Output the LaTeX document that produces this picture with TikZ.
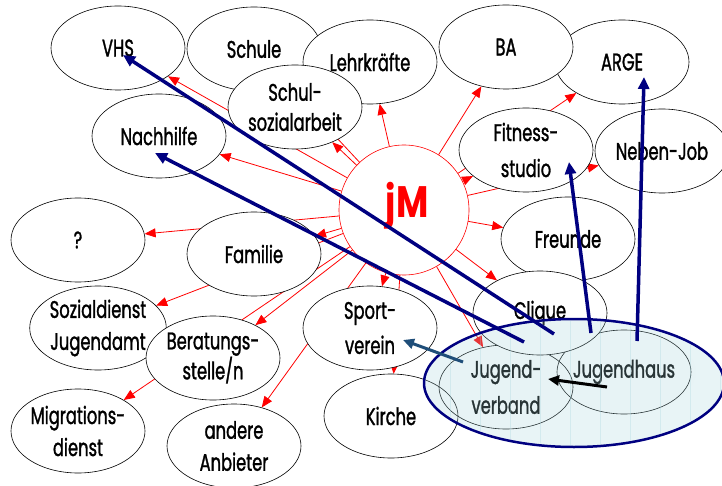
\documentclass[tikz,border=0pt]{standalone}
\usepackage{fontspec}
\setmainfont{Poppins}[FakeStretch=0.68,FakeBold=1.2]
\newfontfamily\jmfont{Poppins}[FakeStretch=0.8]
\usetikzlibrary{shapes.geometric,arrows.meta}
\pgfdeclarelayer{back}
\pgfsetlayers{back,main}
\definecolor{navy}{HTML}{000080}
\definecolor{tealarr}{HTML}{1F4E79}
\definecolor{ovl}{HTML}{A3D3DB}
\begin{document}
\begin{tikzpicture}[x=1pt,y=-1pt,
  bub/.style={ellipse, draw=black, line width=0.6pt, fill=white,
    minimum width=134pt, minimum height=84pt, inner sep=0pt, align=center,
    font=\fontsize{24}{32}\selectfont},
  outl/.style={draw=black, line width=0.6pt},
  redarr/.style={draw=red, line width=0.8pt, -{Triangle[length=11pt,width=9pt]}},
  bluearr/.style={draw=navy, line width=3.5pt, -{Triangle[length=12pt,width=11pt]}},
  tealline/.style={draw=tealarr, line width=3pt, -{Triangle[length=11pt,width=10pt]}},
  blackline/.style={draw=black, line width=3pt, -{Triangle[length=11pt,width=10pt]}},
  gridline/.style={draw=ovl, line width=0.6pt, opacity=0.3}]
\useasboundingbox (0,0) rectangle (722,486);
% ellipses
\node[bub] (vhs) at (118,48) {VHS};
\node[bub] (schule) at (254,49) {Schule};
\node[bub] (lehr) at (370,62) {Lehrkräfte};
\node[bub] (schulsoz) at (295,107) {Schul-\\[-2pt]sozialarbeit};
\node[bub] (nachhilfe) at (159,136) {Nachhilfe};
\node[bub] (arge) at (622,62) {ARGE};
\node[bub] (ba) at (506,47) {BA};
\node[bub] (fitness) at (526,150) {Fitness-\\[4pt]studio};
\node[bub] (nebenjob) at (662,151) {Neben-Job};
\node[bub] (frage) at (78,240) {?};
\node[bub] (familie) at (254,254) {Familie};
\node[bub] (freunde) at (568,239) {Freunde};
\node[bub] (sozial) at (98,328) {Sozialdienst\\Jugendamt};
\node[bub] (berat) at (213,358) {Beratungs-\\[-2pt]stelle/n};
\node[bub] (migr) at (78,431) {Migrations-\\dienst};
\node[bub] (andere) at (234,446) {andere\\Anbieter};
\node[bub] (sport) at (370,328) {Sport-\\[3pt]verein};
\node[bub, draw=none] (kirche) at (391,416) {Kirche};
\node[bub, draw=none] (jhaus) at (624,372) {Jugendhaus};
\node[bub, draw=none] (jverband) at (506,387) {Jugend-\\[4pt]verband};
\draw[outl] (kirche.center) ellipse [x radius=67, y radius=42];
\draw[outl] (jhaus.center) ellipse [x radius=67, y radius=42];
\draw[outl] (jverband.center) ellipse [x radius=67, y radius=42];
\node[bub] (clique) at (540,313) {Clique};
% centre circle
\node[circle, draw=red, line width=0.6pt, minimum size=130pt, inner sep=0pt,
  text=red, font=\jmfont\bfseries\fontsize{44}{44}\selectfont,
  text height=15pt, text depth=0pt] (jm) at (404,210) {\hspace*{6pt}jM};
% red arrows underneath the ellipses
\begin{pgfonlayer}{back}
\foreach \t in {vhs,schule,lehr,schulsoz,nachhilfe,arge,ba,fitness,nebenjob,
  frage,familie,freunde,sozial,berat,migr,andere,sport,kirche,jverband,clique}
  \draw[redarr] (jm) -- (\t);
\end{pgfonlayer}
% translucent group ellipse
\node[ellipse, fill=ovl, fill opacity=0.25, minimum width=300pt,
  minimum height=128pt, inner sep=0pt] (grp) at (574,383) {};
\begin{scope}
  \clip (grp.center) ellipse [x radius=148, y radius=62];
  \draw[gridline] (424,317) grid[step=30] (726,451);
\end{scope}
\draw[navy, line width=2.5pt] (grp.center) ellipse [x radius=150, y radius=64];
% free ends of the thick connectors
\coordinate (t1) at (554,334);
\coordinate (t2) at (524,342);
\coordinate (t3) at (591,333);
\coordinate (t4) at (637,341);
\coordinate (t5) at (463,362);
\coordinate (t6) at (607,387);
\draw[bluearr] (t1) -- ([shift={(5,7)}]vhs.center);
\draw[bluearr] (t2) -- ([shift={(-4,17)}]nachhilfe.center);
\draw[bluearr] (t3) -- ([shift={(43,12)}]fitness.center);
\draw[bluearr] (t4) -- ([shift={(22,15)}]arge.center);
\draw[tealline] (t5) -- ([shift={(33,12)}]sport.center);
\draw[blackline] (t6) -- ([shift={(42,-8)}]jverband.center);
\end{tikzpicture}
\end{document}
